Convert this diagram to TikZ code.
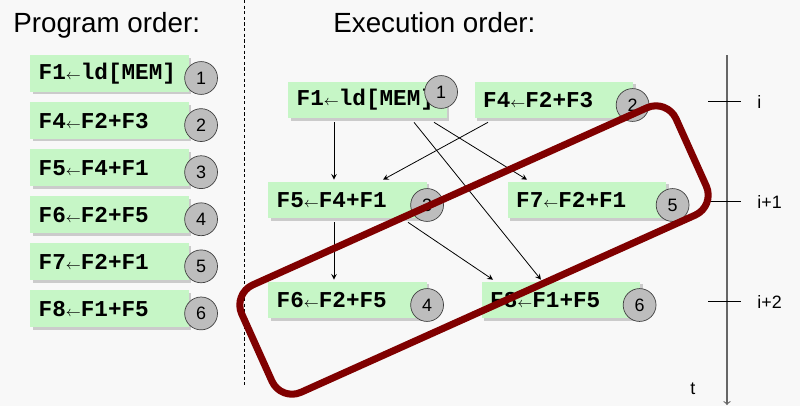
\documentclass[tikz,border=0pt]{standalone}
\usepackage{fontspec}
\setmainfont{Liberation Sans}
\newfontfamily\codefont{Liberation Mono}
\usetikzlibrary{positioning,shadows}

\definecolor{boxgreen}{HTML}{C6F6C6}
\definecolor{numgray}{HTML}{BDBDBD}
\definecolor{darkred}{HTML}{800000}
\definecolor{bggray}{HTML}{F8F8F8}

\newcommand{\getsarr}{{\fontsize{8.5}{10}\selectfont$\leftarrow$}}

\tikzset{
  instr/.style={rectangle, fill=boxgreen, text width=80.6pt, inner xsep=4.8pt, inner ysep=0pt,
    minimum height=21pt, align=left, font=\codefont\bfseries\fontsize{12.9}{14}\selectfont,
    drop shadow={shadow xshift=1.4pt, shadow yshift=-1.4pt, fill=black, opacity=0.18}},
  num/.style={circle, draw=black!75, fill=numgray, minimum size=18.7pt, inner sep=0pt,
    font=\fontsize{10.2}{12}\selectfont},
  title/.style={anchor=base west, inner sep=0pt, font=\fontsize{15.8}{18}\selectfont},
  tlabel/.style={anchor=west, inner sep=0pt, font=\fontsize{10.2}{12}\selectfont},
  dep/.style={-stealth, black, line width=0.45pt}
}

\begin{document}
\begin{tikzpicture}[x=0.02cm, y=-0.02cm]
		\useasboundingbox[fill=bggray] (0,0) rectangle (800,406);
		% titles and separator
		\node[title] (prog) at (13,32) {Program order:};
		\node[title] (exec) at (333,32) {Execution order:};
		\draw[black, line width=0.5pt, dash pattern=on 1.8pt off 1.4pt] (244.5,0) -- (244.5,385);

		% program order
		\node[instr] (a1) at (109.5,73.5) {F1\getsarr ld[MEM]};
		\node[instr, below=5.4pt of a1] (a2) {F4\getsarr F2+F3};
		\node[instr, below=5.4pt of a2] (a3) {F5\getsarr F4+F1};
		\node[instr, below=5.4pt of a3] (a4) {F6\getsarr F2+F5};
		\node[instr, below=5.4pt of a4] (a5) {F7\getsarr F2+F1};
		\node[instr, below=5.4pt of a5] (a6) {F8\getsarr F1+F5};
		\node[num] (na1) at ([shift={(12,4.5)}]a1.east) {1};
		\node[num] (na2) at ([shift={(12,4.5)}]a2.east) {2};
		\node[num] (na3) at ([shift={(12,4.5)}]a3.east) {3};
		\node[num] (na4) at ([shift={(12,4.5)}]a4.east) {4};
		\node[num] (na5) at ([shift={(12,4.5)}]a5.east) {5};
		\node[num] (na6) at ([shift={(12,4.5)}]a6.east) {6};

		% execution order
		\node[instr] (b1) at (367.5,100) {F1\getsarr ld[MEM]};
		\node[instr] (b2) at (554,100) {F4\getsarr F2+F3};
		\node[instr] (b3) at (347.5,200) {F5\getsarr F4+F1};
		\node[instr] (b5) at (587,200) {F7\getsarr F2+F1};
		\node[instr] (b4) at (347.5,300) {F6\getsarr F2+F5};
		\node[instr] (b6) at (561,300) {F8\getsarr F1+F5};
		\draw[dep] ([shift={(-33.5,3.5)}]b1.south) -- ([shift={(-13.5,-1.5)}]b3.north);
		\draw[dep] ([shift={(-66,3.5)}]b2.south) -- ([shift={(35.5,-1.5)}]b3.north);
		\draw[dep] ([shift={(66.5,3.5)}]b1.south) -- ([shift={(-60,-1.5)}]b5.north);
		\draw[dep] ([shift={(46.5,3.5)}]b1.south) -- ([shift={(-20,-1.5)}]b6.north);
		\draw[dep] ([shift={(-13.5,3.5)}]b3.south) -- ([shift={(-13.5,-1.5)}]b4.north);
		\draw[dep] ([shift={(60.5,3.5)}]b3.south) -- ([shift={(-68,-1.5)}]b6.north);
		\node[num] (nb1) at ([shift={(-6,-8)}]b1.east) {1};
		\node[num] (nb2) at ([shift={(-1,5)}]b2.east) {2};
		\node[num] (nb3) at ([shift={(0,5)}]b3.east) {3};
		\node[num] (nb5) at ([shift={(6,5)}]b5.east) {5};
		\node[num] (nb4) at ([shift={(0,5)}]b4.east) {4};
		\node[num] (nb6) at ([shift={(-1,5)}]b6.east) {6};

		% time axis
		\coordinate (ttop) at (727,55);
		\coordinate (tend) at (727,405);
		\draw[black!60, line width=0.6pt, ->] (ttop) -- (tend);
		\draw[black, line width=0.5pt] (708,101) -- (741,101);
		\draw[black, line width=0.5pt] (708,201) -- (741,201);
		\draw[black, line width=0.5pt] (708,301) -- (741,301);
		\node[tlabel] (ti) at (757,102) {i};
		\node[tlabel] (ti1) at (757,202) {i+1};
		\node[tlabel] (ti2) at (757,302) {i+2};
		\node[tlabel] (tt) at (690,389) {t};

		% issue group
		\node[draw=darkred, line width=4pt, rounded corners=12.5pt, minimum width=271pt,
			minimum height=67pt, rotate=24.2] (grp) at (474,250) {};
	\end{tikzpicture}
\end{document}
